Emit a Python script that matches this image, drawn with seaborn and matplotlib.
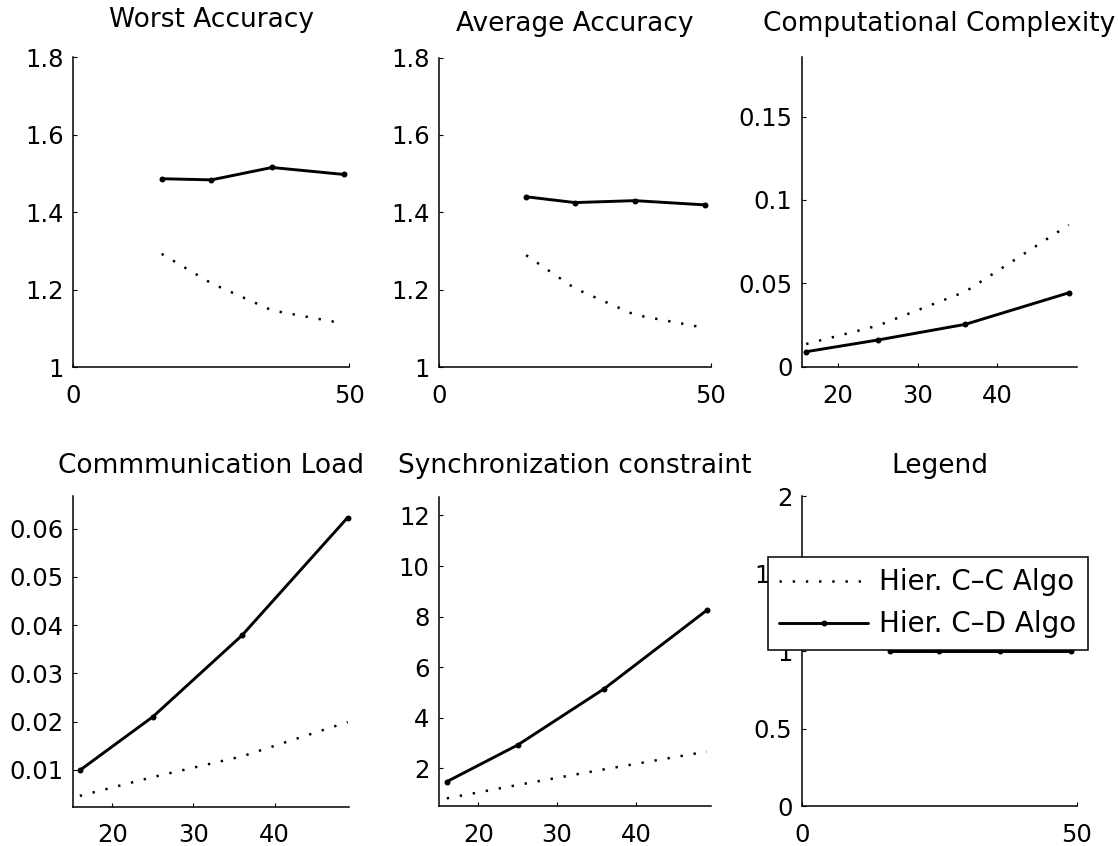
import matplotlib
matplotlib.use("Agg")
import matplotlib.pyplot as plt
from matplotlib.ticker import FuncFormatter
from matplotlib.lines import Line2D
import seaborn as sns

# Network sizes (number of nodes) evaluated
n_nodes = [16, 25, 36, 49]

# Hierarchical centralized-centralized (C-C) algorithm
worst_cc = [1.293, 1.217, 1.147, 1.113]
avg_cc = [1.289, 1.203, 1.135, 1.101]
comp_cc = [0.0136, 0.0246, 0.0450, 0.085]
comm_cc = [0.0046, 0.0085, 0.0128, 0.0199]
sync_cc = [0.81, 1.34, 1.96, 2.66]

# Hierarchical centralized-distributed (C-D) algorithm
worst_cd = [1.487, 1.484, 1.516, 1.498]
avg_cd = [1.440, 1.425, 1.430, 1.419]
comp_cd = [0.009, 0.016, 0.0254, 0.0443]
comm_cd = [0.0099, 0.021, 0.0379, 0.0623]
sync_cd = [1.47, 2.92, 5.15, 8.25]

# Placeholder curve for the legend panel
legend_y = [1, 1, 1, 1]

series_labels = ["Hier. C\u2013C Algo", "Hier. C\u2013D Algo"]
titles = ["Worst Accuracy", "Average Accuracy", "Computational Complexity",
          "Commmunication Load", "Synchronization constraint", "Legend"]

acc_xticks = [0, 50]
acc_yticks = [1, 1.2, 1.4, 1.6, 1.8]
n_xticks = [20, 30, 40]
comp_yticks = [0, 0.05, 0.1, 0.15]
comm_yticks = [0.01, 0.02, 0.03, 0.04, 0.05, 0.06]
sync_yticks = [2, 4, 6, 8, 10, 12]
leg_yticks = [0, 0.5, 1, 1.5, 2]

sns.set_style("ticks")
plt.rcParams["font.family"] = ["DejaVu Sans"]
plt.rcParams["text.color"] = "black"
plt.rcParams["lines.scale_dashes"] = False

W, H = 1118, 846
fig = plt.figure(figsize=(W / 100, H / 100), dpi=100)
fig.patch.set_facecolor("white")


def axes_px(left, top, right, bottom):
    return fig.add_axes([left / W, (H - bottom) / H, (right - left) / W, (bottom - top) / H])


DOT = (0, (1.7, 7.8))
SOLID_KW = dict(color="black", linewidth=2.1, marker="o", markersize=4.3,
                markeredgewidth=0, linestyle="-")
DOT_KW = dict(color="black", linewidth=1.8, linestyle=DOT)

panels = [
    dict(pos=(73.3, 57.5, 349.3, 367.3), cc=worst_cc, cd=worst_cd, xlim=(0, 50),
         ylim=(1, 1.8), xt=acc_xticks, yt=acc_yticks, pad=22),
    dict(pos=(439.3, 57.5, 710.7, 367.0), cc=avg_cc, cd=avg_cd, xlim=(0, 50),
         ylim=(1, 1.8), xt=acc_xticks, yt=acc_yticks, pad=19),
    dict(pos=(802.2, 57.0, 1076.7, 366.7), cc=comp_cc, cd=comp_cd, xlim=(15.5, 50),
         ylim=(0, 0.1857), xt=n_xticks, yt=comp_yticks, pad=19),
    dict(pos=(73.3, 496.3, 349.3, 806.5), cc=comm_cc, cd=comm_cd, xlim=(15.2, 49.2),
         ylim=(0.0024, 0.0667), xt=n_xticks, yt=comm_yticks, pad=16.8),
    dict(pos=(439.3, 496.5, 710.7, 806.2), cc=sync_cc, cd=sync_cd, xlim=(15.05, 49.5),
         ylim=(0.5, 12.75), xt=n_xticks, yt=sync_yticks, pad=16.8),
    dict(pos=(802.2, 496.3, 1076.7, 806.3), cc=legend_y, cd=legend_y, xlim=(0, 50),
         ylim=(0, 2), xt=acc_xticks, yt=leg_yticks, pad=16.8),
]

fmt = FuncFormatter(lambda v, p: f"{v:g}")

axes = []
for title, spec in zip(titles, panels):
    ax = axes_px(*spec["pos"])
    ax.set_facecolor("white")
    sns.lineplot(x=n_nodes, y=spec["cc"], ax=ax, **DOT_KW)
    sns.lineplot(x=n_nodes, y=spec["cd"], ax=ax, **SOLID_KW)
    if ax.get_legend() is not None:
        ax.get_legend().remove()
    ax.set_xlim(*spec["xlim"])
    ax.set_ylim(*spec["ylim"])
    ax.set_xticks(spec["xt"])
    ax.set_yticks(spec["yt"])
    ax.xaxis.set_major_formatter(fmt)
    ax.yaxis.set_major_formatter(fmt)
    ax.set_xlabel("")
    ax.set_ylabel("")
    sns.despine(ax=ax)
    for side in ("left", "bottom"):
        ax.spines[side].set_linewidth(1.1)
        ax.spines[side].set_color("black")
    ax.tick_params(axis="both", direction="in", length=3, width=0.8,
                   colors="black", labelsize=17.5)
    ax.tick_params(axis="y", pad=7)
    ax.tick_params(axis="x", pad=12.2)
    ax.set_title(title, fontsize=19, pad=spec["pad"], color="black")
    for line in ax.get_lines():
        line.set_clip_on(False)
    axes.append(ax)

handles = [
    Line2D([], [], **DOT_KW),
    Line2D([], [], **SOLID_KW),
]
leg = axes[5].legend(handles, series_labels, loc="upper left",
                     bbox_to_anchor=(767.7 / W, 1 - 556.7 / H),
                     bbox_transform=fig.transFigure, borderaxespad=0,
                     frameon=True, fancybox=False, framealpha=1,
                     edgecolor="black", facecolor="white", fontsize=20,
                     handlelength=3.2, handletextpad=0.4, borderpad=0.42,
                     labelspacing=0.5, numpoints=1)
for txt in leg.get_texts():
    txt.set_color("black")
leg.get_frame().set_linewidth(1.1)
leg.set_zorder(10)

fig.savefig("out.png", dpi=100, facecolor="white")
